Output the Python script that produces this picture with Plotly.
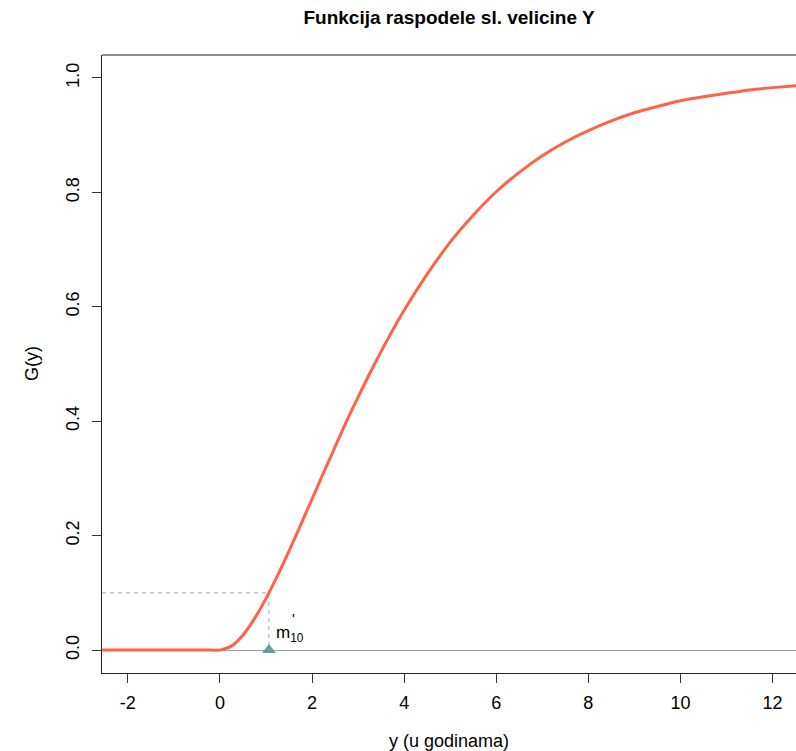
import plotly.graph_objects as go

# Data
y_vals = [-2.6, -2.0, -1.0, -0.5, -0.2, 0.0, 0.25, 0.5, 0.75, 1.0, 1.25, 1.5, 1.75,
          2.0, 2.25, 2.5, 2.75, 3.0, 3.25, 3.5, 3.75, 4.0, 4.5, 5.0, 5.5, 6.0, 6.5,
          7.0, 7.5, 8.0, 8.5, 9.0, 9.5, 10.0, 10.5, 11.0, 11.5, 12.0, 12.6]
G_vals = [0.0, 0.0, 0.0, 0.0, 0.0, 0.0, 0.007, 0.026, 0.055, 0.090, 0.130, 0.173,
          0.218, 0.264, 0.310, 0.355, 0.400, 0.442, 0.483, 0.522, 0.559, 0.594, 0.657,
          0.713, 0.760, 0.801, 0.835, 0.864, 0.888, 0.908, 0.925, 0.939, 0.950, 0.960,
          0.967, 0.973, 0.979, 0.983, 0.987]
q10 = 1.064
p10 = 0.1
x_ticks = [-2, 0, 2, 4, 6, 8, 10, 12]
x_tick_text = ["-2", "0", "2", "4", "6", "8", "10", "12"]
y_ticks = [0.0, 0.2, 0.4, 0.6, 0.8, 1.0]
x_range = [-2.56, 12.508]
y_range = [-0.04, 1.04]

FONT = "Liberation Sans, Arial, sans-serif"

W, H = 796, 751
L, T = 102, 55.3
BOT = 672.7
B = H - BOT
PH = BOT - T
PW = W - L

fig = go.Figure()

fig.add_trace(go.Scatter(
    x=[x_range[0], q10, q10], y=[p10, p10, 0],
    mode="lines", line=dict(color="#A8A8A8", width=1, dash="4px,4px"),
    hoverinfo="skip", showlegend=False))

fig.add_trace(go.Scatter(
    x=y_vals, y=G_vals, mode="lines",
    line=dict(color="#FF6347", width=3, shape="spline", smoothing=0.6),
    showlegend=False))

fig.add_trace(go.Scatter(
    x=[q10], y=[0], mode="markers",
    marker=dict(symbol="triangle-up", size=12, color="#5F9EA0"),
    showlegend=False))

fig.update_layout(
    width=W, height=H,
    margin=dict(l=L, r=0, t=T, b=B, pad=0),
    paper_bgcolor="white", plot_bgcolor="white",
    font=dict(family=FONT, size=18, color="black"),
    title=dict(text="<b>Funkcija raspodele sl. velicine Y</b>",
               x=0.5, xref="paper", xanchor="center",
               y=1 - 17 / H, yref="container", yanchor="middle",
               font=dict(family=FONT, size=19, color="black")),
    xaxis=dict(range=x_range, tickvals=x_ticks, ticktext=x_tick_text,
               ticks="outside", ticklen=9,
               tickcolor="#333", tickwidth=1, showline=True, linecolor="#222",
               linewidth=1.2, showgrid=False, zeroline=False,
               tickfont=dict(size=18), ticklabelstandoff=4),
    yaxis=dict(range=y_range, tickvals=y_ticks, tickformat=".1f", ticks="outside",
               ticklen=9, tickcolor="#333", tickwidth=1, showline=True,
               linecolor="#222", linewidth=1.2, showgrid=False,
               zeroline=True, zerolinecolor="#A0A0A0", zerolinewidth=1,
               tickangle=-90, tickfont=dict(size=18), ticklabelstandoff=6),
    shapes=[dict(type="line", xref="paper", yref="paper", x0=0, x1=1, y0=1, y1=1,
                 line=dict(color="#222", width=1.2))],
    annotations=[
        dict(text="y (u godinama)", xref="paper", yref="paper", x=0.5,
             y=-(741 - BOT) / PH, xanchor="center", yanchor="middle",
             showarrow=False, font=dict(size=18)),
        dict(text="G(y)", xref="paper", yref="paper", x=(32 - L) / PW,
             y=0.5, xanchor="center", yanchor="middle", textangle=-90,
             showarrow=False, font=dict(size=18)),
        dict(text="m<sub>10</sub>", xref="x", yref="y", x=q10, y=0.028,
             xanchor="left", yanchor="middle", xshift=5, showarrow=False,
             font=dict(size=17)),
        dict(text="'", xref="x", yref="y", x=q10, y=0.056,
             xanchor="left", yanchor="middle", xshift=21, showarrow=False,
             font=dict(size=15, color="black")),
    ],
)

fig.write_html(
    "out.html",
    config={"displayModeBar": False},
    post_script="document.body.style.margin='0px';"
                "document.body.style.overflow='hidden';",
)
